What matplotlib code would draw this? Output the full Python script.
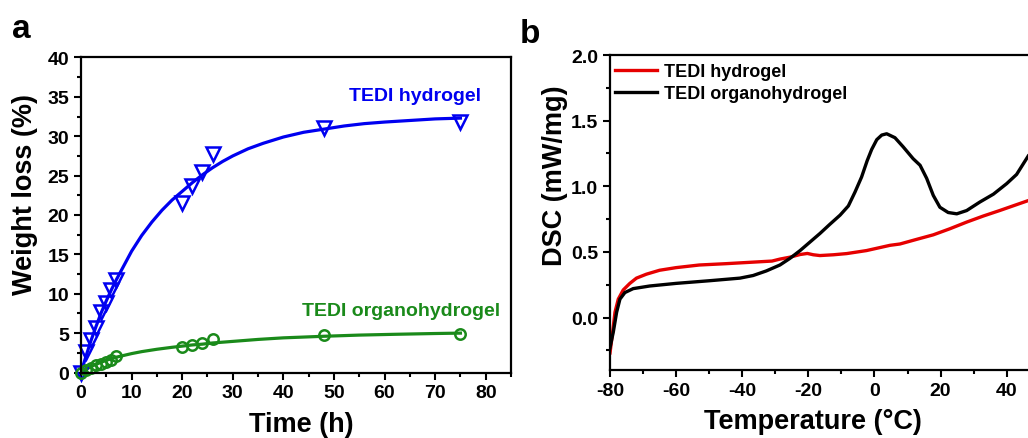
import numpy as np
import matplotlib
matplotlib.use("Agg")
import matplotlib.pyplot as plt
from matplotlib.ticker import MultipleLocator, FormatStrFormatter

plt.rcParams['font.family'] = ['Liberation Sans', 'DejaVu Sans']
plt.rcParams['font.weight'] = 'bold'
plt.rcParams['axes.labelweight'] = 'bold'
plt.rcParams['axes.unicode_minus'] = False

# panel a: weight loss data
time_h = [0, 1, 2, 3, 4, 5, 6, 7, 20, 22, 24, 26, 48, 75]
hydrogel_loss = [0, 2.6, 4.1, 5.6, 7.7, 8.8, 10.5, 11.7, 21.5, 23.7, 25.4, 27.7, 31.1, 31.8]
organo_loss = [0, 0.3, 0.6, 0.9, 1.1, 1.35, 1.6, 2.1, 3.2, 3.5, 3.7, 4.3, 4.7, 4.95]

# fitted curves
fit_t_hydro = [0, 1, 2, 3, 4, 5, 6, 7, 8, 10, 12, 14, 16, 18, 20, 22, 24, 26, 28, 30,
               33, 36, 40, 44, 48, 52, 56, 60, 65, 70, 75]
fit_hydro = [0, 2.1, 4.1, 5.9, 7.6, 9.1, 10.5, 11.8, 13.0, 15.4, 17.4, 19.1, 20.6, 21.9,
             23.0, 24.1, 25.1, 26.0, 26.8, 27.5, 28.4, 29.1, 29.9, 30.5, 30.9, 31.3,
             31.6, 31.8, 32.0, 32.2, 32.3]
fit_t_organo = [0, 1, 2, 3, 4, 5, 6, 7, 8, 10, 12, 15, 18, 20, 22, 24, 26, 30, 35, 40,
                48, 55, 62, 70, 75]
fit_organo = [0, 0.4, 0.75, 1.05, 1.3, 1.55, 1.75, 1.95, 2.1, 2.4, 2.65, 2.95, 3.2, 3.35,
              3.5, 3.6, 3.75, 3.95, 4.2, 4.4, 4.6, 4.75, 4.85, 4.95, 5.0]

# panel b: DSC curves
temp_hydro = [-80, -79.2, -78.5, -77.5, -76, -74, -72, -69, -65, -60, -53, -45, -38, -31,
              -28.6, -25.5, -22.5, -20.3, -18.5, -16.5, -12.4, -8.4, -2.4, 4.7, 7.7, 12.7,
              17.8, 22.8, 27.9, 32.9, 38, 43, 47]
dsc_hydro = [-0.27, -0.11, 0.04, 0.14, 0.21, 0.26, 0.30, 0.33, 0.36, 0.38, 0.40, 0.41,
             0.42, 0.43, 0.445, 0.46, 0.48, 0.488, 0.478, 0.472, 0.478, 0.487, 0.51, 0.55,
             0.56, 0.595, 0.63, 0.676, 0.727, 0.773, 0.816, 0.86, 0.895]
temp_organo = [-80, -79, -78, -77, -75.5, -73, -68, -60, -50, -40.7, -36.7, -32.7, -28.6,
               -25.6, -22.5, -19.5, -16.5, -13.5, -10.4, -7.9, -5.9, -3.9, -2.2, -0.85,
               0.7, 2.2, 3.7, 6.2, 8.7, 11.7, 13.8, 15.8, 17.8, 19.8, 22.3, 24.9, 27.9,
               31.9, 36, 40, 43, 46.5]
dsc_organo = [-0.23, -0.11, 0.04, 0.14, 0.19, 0.22, 0.24, 0.26, 0.28, 0.30, 0.32, 0.355,
              0.40, 0.45, 0.51, 0.575, 0.64, 0.71, 0.78, 0.85, 0.955, 1.07, 1.195, 1.28,
              1.355, 1.39, 1.40, 1.37, 1.30, 1.21, 1.16, 1.06, 0.93, 0.84, 0.80, 0.79,
              0.815, 0.88, 0.94, 1.02, 1.09, 1.23]

blue = '#0000f0'
green = '#1a8a1a'
red = '#e60000'


def style_axes(ax):
    for sp in ax.spines.values():
        sp.set_linewidth(1.6)
    ax.tick_params(which='both', direction='out', width=1.5, labelsize=14, top=False, right=False)
    ax.tick_params(which='major', length=5)
    ax.tick_params(which='minor', length=3)


fig = plt.figure(figsize=(10.28, 4.39), dpi=100)

# ---- panel a ----
ax1 = fig.add_axes([0.0788, 0.1492, 0.4183, 0.7176])
ax1.plot(fit_t_hydro, fit_hydro, color=blue, lw=2.3)
ax1.plot(fit_t_organo, fit_organo, color=green, lw=2.3)
ax1.plot(time_h, hydrogel_loss, 'v', ms=10, mfc='none', mec=blue, mew=1.8, clip_on=False)
ax1.plot(time_h, organo_loss, 'o', ms=7.5, mfc='none', mec=green, mew=1.8, clip_on=False)
ax1.set_xlim(0, 85)
ax1.set_ylim(0, 40)
ax1.xaxis.set_major_locator(MultipleLocator(10))
ax1.xaxis.set_minor_locator(MultipleLocator(5))
ax1.yaxis.set_major_locator(MultipleLocator(5))
ax1.yaxis.set_minor_locator(MultipleLocator(2.5))
style_axes(ax1)
ax1.set_xlabel('Time (h)', fontsize=19.5)
ax1.set_ylabel('Weight loss (%)', fontsize=19.5)
ax1.xaxis.label.set_verticalalignment('center')
ax1.yaxis.label.set_verticalalignment('center')
ax1.xaxis.set_label_coords(0.513, -0.162)
ax1.yaxis.set_label_coords(-0.130, 0.567)
ax1.text(66, 35.2, 'TEDI hydrogel', color=blue, fontsize=14, ha='center', va='center')
ax1.text(63.2, 7.9, 'TEDI organohydrogel', color=green, fontsize=14, ha='center', va='center')

# ---- panel b (cropped at the right edge in the source) ----
ax2 = fig.add_axes([0.5934, 0.1549, 1 - 0.5934, 0.7175])
ax2.plot(temp_hydro, dsc_hydro, color=red, lw=2.4, label='TEDI hydrogel')
ax2.plot(temp_organo, dsc_organo, color='black', lw=2.4, label='TEDI organohydrogel')
ax2.set_xlim(-80, 46.45)
ax2.set_ylim(-0.4, 2.0)
ax2.xaxis.set_major_locator(MultipleLocator(20))
ax2.xaxis.set_minor_locator(MultipleLocator(10))
ax2.yaxis.set_major_locator(MultipleLocator(0.5))
ax2.yaxis.set_minor_locator(MultipleLocator(0.25))
ax2.yaxis.set_major_formatter(FormatStrFormatter('%.1f'))
style_axes(ax2)
ax2.spines['right'].set_visible(False)
ax2.set_xlabel('Temperature (°C)', fontsize=19.5)
ax2.set_ylabel('DSC (mW/mg)', fontsize=19.5)
ax2.xaxis.label.set_verticalalignment('center')
ax2.yaxis.label.set_verticalalignment('center')
ax2.xaxis.set_label_coords(0.486, -0.162)
ax2.yaxis.set_label_coords(-0.132, 0.619)
ax2.legend(loc='upper left', bbox_to_anchor=(0.013, 0.975), frameon=False,
           fontsize=13, handlelength=2.3, handletextpad=0.4, labelspacing=0.3,
           borderpad=0, borderaxespad=0)

fig.text(12 / 1028, 1 - 38 / 439, 'a', fontsize=24, fontweight='bold', va='baseline')
fig.text(520 / 1028, 1 - 43 / 439, 'b', fontsize=24, fontweight='bold', va='baseline')

fig.savefig('out.png', dpi=100)
